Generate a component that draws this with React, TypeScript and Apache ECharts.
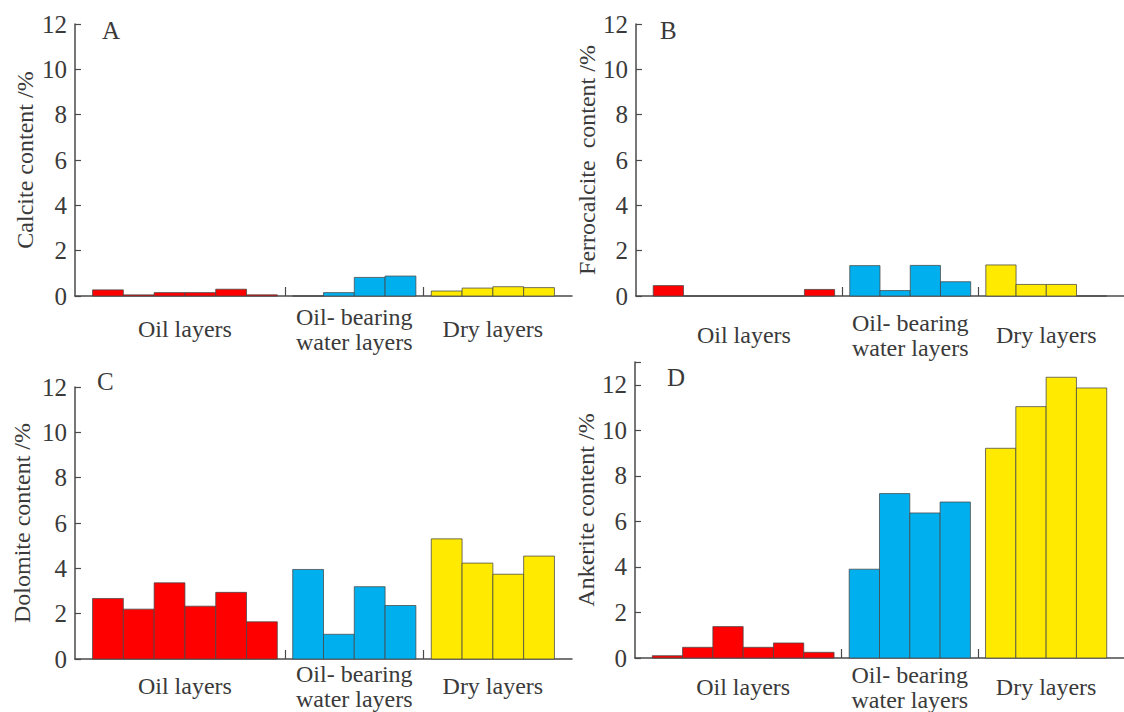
import React, { useEffect, useRef } from "react";
import * as echarts from "echarts";

// ---- Data ----
const GROUP_LABELS = ["Oil layers", "Oil- bearing\nwater layers", "Dry layers"];
const Y_TICKS = [0, 2, 4, 6, 8, 10, 12];

// Panel A: Calcite
const calciteOil = [0.27, 0.05, 0.15, 0.15, 0.3, 0.05];
const calciteWater = [0, 0.15, 0.82, 0.88];
const calciteDry = [0.22, 0.35, 0.41, 0.37];

// Panel B: Ferrocalcite
const ferroOil = [0.46, 0, 0, 0, 0, 0.29];
const ferroWater = [1.34, 0.24, 1.35, 0.63];
const ferroDry = [1.37, 0.51, 0.51, 0];

// Panel C: Dolomite
const dolomiteOil = [2.67, 2.2, 3.36, 2.33, 2.94, 1.64];
const dolomiteWater = [3.95, 1.09, 3.19, 2.36];
const dolomiteDry = [5.3, 4.23, 3.74, 4.54];

// Panel D: Ankerite
const ankeriteOil = [0.1, 0.47, 1.38, 0.47, 0.66, 0.25];
const ankeriteWater = [3.9, 7.22, 6.37, 6.85];
const ankeriteDry = [9.21, 11.04, 12.33, 11.86];

// ---- Layout helpers (in bar-width units) ----
const EDGE = 0.57;
const GAP = 0.5;
const X_MAX = EDGE * 2 + 14 + GAP * 2;
const OFFSETS = [EDGE, EDGE + 6 + GAP, EDGE + 10 + GAP * 2];
const COLORS = ["#ff0000", "#00b0ee", "#ffea00"];
const FONT = "'Liberation Serif', 'Times New Roman', serif";
const TEXT = "#3a3a3a";
const AXIS = "#4a4a4a";

function buildData(groups: number[][]) {
  const out: number[][] = [];
  groups.forEach((vals, g) => {
    vals.forEach((v, i) => {
      out.push([OFFSETS[g] + i, v, g]);
    });
  });
  return out;
}

const GROUP_CENTERS = [OFFSETS[0] + 3, OFFSETS[1] + 2, OFFSETS[2] + 2];
const BOUNDARIES = [OFFSETS[1] - GAP / 2, OFFSETS[2] - GAP / 2];

function groupLabel(v: number) {
  let best = 0;
  let bd = Infinity;
  GROUP_CENTERS.forEach((c, i) => {
    const d = Math.abs(c - v);
    if (d < bd) {
      bd = d;
      best = i;
    }
  });
  return GROUP_LABELS[best];
}

const panels = [
  { letter: "A", name: "Calcite content /%", groups: [calciteOil, calciteWater, calciteDry], grid: { left: 75, top: 24, width: 497, height: 272 }, max: 12, nameGap: 38, labelMargin: 33, letterPos: [102, 18] },
  { letter: "B", name: "Ferrocalcite  content /%", groups: [ferroOil, ferroWater, ferroDry], grid: { left: 636, top: 24, width: 497, height: 272 }, max: 12, nameGap: 35, labelMargin: 39, letterPos: [660, 18] },
  { letter: "C", name: "Dolomite content /%", groups: [dolomiteOil, dolomiteWater, dolomiteDry], grid: { left: 75, top: 387, width: 497, height: 272 }, max: 12, nameGap: 41, labelMargin: 27, letterPos: [97, 369] },
  { letter: "D", name: "Ankerite content /%", groups: [ankeriteOil, ankeriteWater, ankeriteDry], grid: { left: 635, top: 362, width: 497, height: 297 }, max: 13, nameGap: 33, labelMargin: 29, letterPos: [667, 365] },
];

export default function App() {
  const ref = useRef<HTMLDivElement>(null);
  useEffect(() => {
    if (!ref.current) return;
    const chart = echarts.init(ref.current, null, { renderer: "svg" });
    const option: any = {
      animation: false,
      backgroundColor: "#ffffff",
      grid: panels.map((p) => ({ ...p.grid, containLabel: false })),
      xAxis: panels.map((p, i) => ({
        type: "value",
        gridIndex: i,
        min: 0,
        max: X_MAX,
        splitLine: { show: false },
        axisLine: { show: true, lineStyle: { color: AXIS, width: 1.5 } },
        axisTick: { show: true, inside: true, length: 9, customValues: BOUNDARIES, lineStyle: { color: AXIS, width: 1.2 } },
        axisLabel: {
          show: true,
          customValues: GROUP_CENTERS,
          formatter: (v: number) => groupLabel(v),
          margin: p.labelMargin,
          verticalAlign: "middle",
          align: "center",
          lineHeight: 25,
          fontFamily: FONT,
          fontSize: 24,
          color: TEXT,
        },
      })),
      yAxis: panels.map((p, i) => ({
        type: "value",
        gridIndex: i,
        min: 0,
        max: p.max,
        interval: 2,
        name: p.name,
        nameLocation: "middle",
        nameGap: p.nameGap,
        nameTextStyle: { fontFamily: FONT, fontSize: 24, color: TEXT },
        splitLine: { show: false },
        axisLine: { show: true, lineStyle: { color: AXIS, width: 1.5 } },
        axisTick: {
          show: true,
          inside: true,
          length: 6,
          lineStyle: { color: AXIS, width: 1.2 },
          ...(p.max === 13 ? { customValues: [...Y_TICKS, 13] } : {}),
        },
        axisLabel: {
          show: true,
          margin: 8,
          fontFamily: FONT,
          fontSize: 25,
          color: TEXT,
          ...(p.max === 13 ? { customValues: Y_TICKS } : {}),
        },
      })),
      series: panels.map((p, i) => ({
        type: "custom",
        xAxisIndex: i,
        yAxisIndex: i,
        data: buildData(p.groups),
        encode: { x: 0, y: 1 },
        renderItem: (_params: any, api: any) => {
          const x0 = api.value(0);
          const v = api.value(1);
          const g = api.value(2);
          const a = api.coord([x0, v]);
          const b = api.coord([x0 + 1, 0]);
          return {
            type: "rect",
            shape: { x: a[0], y: a[1], width: b[0] - a[0], height: b[1] - a[1] },
            style: { fill: COLORS[g], stroke: "rgba(70,70,70,0.75)", lineWidth: 1 },
          };
        },
      })),
      graphic: panels.map((p) => ({
        type: "text",
        left: p.letterPos[0],
        top: p.letterPos[1],
        style: { text: p.letter, fontFamily: FONT, fontSize: 25, fill: TEXT },
      })),
    };
    chart.setOption(option);
    return () => chart.dispose();
  }, []);
  return (
    <div
      ref={ref}
      style={{ position: "absolute", left: 0, top: 0, width: 1124, height: 712, background: "#fff" }}
    />
  );
}
